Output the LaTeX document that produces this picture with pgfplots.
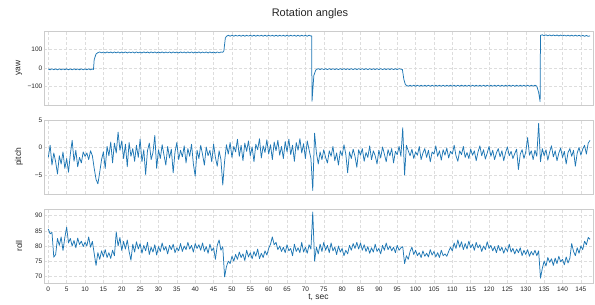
\documentclass[border=0pt]{standalone}
\usepackage{fontspec}
\setmainfont{Liberation Sans}
\usepackage{pgfplots}
\pgfplotsset{compat=1.18}
\definecolor{tabblue}{HTML}{1F77B4}
\definecolor{txt}{HTML}{262626}
\definecolor{gridc}{HTML}{DDDDDD}
\definecolor{spine}{HTML}{CCCCCC}
\pgfplotsset{rot/.style={
  scale only axis, width=549pt, height=74pt,
  xmin=-1.17, xmax=148.3,
  xtick={0,5,...,145},
  major tick length=0pt,
  grid=major,
  major grid style={gridc, densely dashed, line width=0.5pt},
  axis line style={spine, line width=0.8pt},
  tick label style={font=\fontsize{6.5}{7}\selectfont, text=txt},
  /pgf/number format/assume math mode=true,
  yticklabel style={inner sep=1.5pt},
  label style={font=\fontsize{8.5}{10}\selectfont, text=txt},
  ylabel style={at={(axis description cs:-0.0455,0.5)}, anchor=center},
  cycle list={{tabblue, line width=0.75pt, mark=none, line join=round}},
}}
\begin{document}
\begin{tikzpicture}
\useasboundingbox (0,0) rectangle (595pt,305pt);
\node[font=\fontsize{11}{13}\selectfont, text=txt] at (310pt,291pt) {Rotation angles};
% ---------------- yaw
\begin{axis}[rot, at={(44pt,200pt)}, anchor=south west,
  ymin=-198, ymax=198, ytick={-100,0,100}, yticklabels={−100,0,100},
  xticklabels={}, ylabel={yaw}]
\addplot[tabblue, line width=0.75pt, mark=none, line join=round] coordinates {
(0,-5) (0.5,-9.5) (1,-4.5) (1.5,-9) (2,-5) (2.5,-9.5) (3,-4.5) (3.5,-9.5) (4,-5) (4.5,-9) (5,-4.5) (5.5,-9.5) (6,-5) (6.5,-9.5) (7,-4.5) (7.5,-9) (8,-5) (8.5,-9.5) (9,-4.5) (9.5,-9.5) (10,-5) (10.5,-9) (11,-4.5) (11.5,-9.5) (12,-5) (12.3,-8) (12.5,45) (13,75) (13.5,82)
(14,86) (14.5,81) (15,85.5) (15.5,80.5) (16,86) (16.5,81) (17,85.5) (17.5,80.5) (18,86) (18.5,81) (19,86) (19.5,80.5) (20,85.5) (20.5,81) (21,86) (21.5,80.5) (22,85.5) (22.5,81) (23,86) (23.5,80.5) (24,86) (24.5,81) (25,85.5) (25.5,80.5) (26,86) (26.5,81) (27,85.5) (27.5,80.5) (28,86) (28.5,81) (29,86) (29.5,80.5) (30,85.5) (30.5,81) (31,86) (31.5,80.5) (32,85.5) (32.5,81) (33,86) (33.5,80.5) (34,86) (34.5,81) (35,85.5) (35.5,80.5) (36,86) (36.5,81) (37,85.5) (37.5,80.5) (38,86) (38.5,81) (39,86) (39.5,80.5) (40,85.5) (40.5,81) (41,86) (41.5,80.5) (42,85.5) (42.5,81) (43,86) (43.5,80.5) (44,86) (44.5,81) (45,85.5) (45.5,80.5) (46,86) (46.5,81) (47,85.5) (47.5,84) (47.8,92) (48.2,160) (48.5,169.5)
(49,175) (49.5,170) (50,175.5) (50.5,170) (51,175) (51.5,170.5) (52,175) (52.5,170) (53,175.5) (53.5,170) (54,175) (54.5,170.5) (55,175) (55.5,170) (56,175.5) (56.5,170) (57,175) (57.5,170.5) (58,175) (58.5,170) (59,175.5) (59.5,170) (60,175) (60.5,170.5) (61,175) (61.5,170) (62,175.5) (62.5,170) (63,175) (63.5,170.5) (64,175) (64.5,170) (65,175.5) (65.5,170) (66,175) (66.5,170.5) (67,175) (67.5,170) (68,175.5) (68.5,170) (69,175) (69.5,170.5) (70,175) (70.5,170) (71,175.5) (71.5,171) (71.7,172) (71.8,-178) (72.3,-40) (72.8,-12) (73,-8.5)
(73.5,-3.5) (74,-8.5) (74.5,-3.5) (75,-8.5) (75.5,-3.5) (76,-8.5) (76.5,-3.5) (77,-8.5) (77.5,-3.5) (78,-8.5) (78.5,-3.5) (79,-8.5) (79.5,-3.5) (80,-8.5) (80.5,-3.5) (81,-8.5) (81.5,-3.5) (82,-8.5) (82.5,-3.5) (83,-8.5) (83.5,-3.5) (84,-8.5) (84.5,-3.5) (85,-8.5) (85.5,-3.5) (86,-8.5) (86.5,-3.5) (87,-8.5) (87.5,-3.5) (88,-8.5) (88.5,-3.5) (89,-8.5) (89.5,-3.5) (90,-8.5) (90.5,-3.5) (91,-8.5) (91.5,-3.5) (92,-8.5) (92.5,-3.5) (93,-8.5) (93.5,-3.5) (94,-8.5) (94.5,-3.5) (95,-8.5) (95.5,-3.5) (96,-6.5) (96.4,-8) (96.8,-60) (97.2,-88) (97.5,-93)
(98,-97.5) (98.5,-92.5) (99,-97.5) (99.5,-92.5) (100,-97.5) (100.5,-92.5) (101,-97.5) (101.5,-92.5) (102,-97.5) (102.5,-92.5) (103,-97.5) (103.5,-92.5) (104,-97.5) (104.5,-92.5) (105,-97.5) (105.5,-92.5) (106,-97.5) (106.5,-92.5) (107,-97.5) (107.5,-92.5) (108,-97.5) (108.5,-92.5) (109,-97.5) (109.5,-92.5) (110,-97.5) (110.5,-92.5) (111,-97.5) (111.5,-92.5) (112,-97.5) (112.5,-92.5) (113,-97.5) (113.5,-92.5) (114,-97.5) (114.5,-92.5) (115,-97.5) (115.5,-92.5) (116,-97.5) (116.5,-92.5) (117,-97.5) (117.5,-92.5) (118,-97.5) (118.5,-92.5) (119,-97.5) (119.5,-92.5) (120,-97.5) (120.5,-92.5) (121,-97.5) (121.5,-92.5) (122,-97.5) (122.5,-92.5) (123,-97.5) (123.5,-92.5) (124,-97.5) (124.5,-92.5) (125,-97.5) (125.5,-92.5) (126,-97.5) (126.5,-92.5) (127,-97.5) (127.5,-92.5) (128,-97.5) (128.5,-92.5) (129,-97.5) (129.5,-92.5) (130,-97.5) (130.5,-92.5) (131,-97.5) (131.5,-92.5) (132,-97.5) (132.5,-92.5) (133,-97) (133.5,-130) (133.9,-180) (134,175)
(134.5,177.5) (135,172.5) (135.5,177.5) (136,172.5) (136.5,177) (137,172) (137.5,177) (138,172) (138.5,176.5) (139,171.5) (139.5,176.5) (140,171.5) (140.5,176) (141,171) (141.5,176) (142,171) (142.5,175.5) (143,170.5) (143.5,175.5) (144,170.5) (144.5,175) (145,170) (145.5,174.5) (146,169.5) (146.5,174) (147,169.5) (147.5,172)
};
\end{axis}
% ---------------- pitch
\begin{axis}[rot, at={(44pt,111pt)}, anchor=south west,
  ymin=-8.45, ymax=5, ytick={-5,0,5}, yticklabels={−5,0,5},
  xticklabels={}, ylabel={pitch}]
\addplot[tabblue, line width=0.75pt, mark=none, line join=round] coordinates {
(0,-1.8) (0.5,0.4) (1,-3.2) (1.5,-1.0) (2,-2.6) (2.5,-4.8) (3,-1.5) (3.5,-3.0) (4,-0.8) (4.5,-3.8) (5,-2.0) (5.5,-4.5) (6,-1.2) (6.5,1.3) (7,-2.5) (7.5,-0.5) (8,-3.5) (8.5,-1.8) (9,-2.8) (9.5,-0.8)
(10,-1.6) (10.5,-1.0) (11,-2.2) (11.5,-0.6) (12,-1.5) (12.5,-3.8) (13,-5.8) (13.5,-6.6) (14,-4.5) (14.5,-2.2) (15,-0.8) (15.5,-3.8) (16,0.2) (16.5,-1.5) (17,1.0) (17.5,-2.8) (18,0.8) (18.5,-1.0) (19,2.8) (19.5,-0.5)
(20,1.2) (20.5,-2.0) (21,0.6) (21.5,-3.5) (22,0.9) (22.5,-1.6) (23,-0.2) (23.5,-2.5) (24,0.4) (24.5,-1.8) (25,1.5) (25.5,-2.6) (26,-0.4) (26.5,-4.9) (27,-0.6) (27.5,0.8) (28,-2.2) (28.5,-0.9) (29,2.2) (29.5,-3.8)
(30,-0.4) (30.5,-2.0) (31,0.5) (31.5,-1.4) (32,-3.2) (32.5,0.2) (33,-1.9) (33.5,-0.3) (34,-4.6) (34.5,-0.8) (35,0.9) (35.5,-2.2) (36,-0.5) (36.5,-1.7) (37,0.3) (37.5,-2.8) (38,-0.2) (38.5,-1.6) (39,0.6) (39.5,-3.0)
(40,-5.2) (40.5,-0.5) (41,-2.0) (41.5,0.4) (42,-1.3) (42.5,-3.2) (43,0.1) (43.5,-1.5) (44,-0.5) (44.5,-2.6) (45,0.6) (45.5,-1.8) (46,-3.4) (46.5,-0.6) (47,-2.2) (47.5,-6.8) (48,-2.5) (48.5,0.5) (49,-1.2) (49.5,0.9)
(50,-1.8) (50.5,0.2) (51,-0.8) (51.5,1.5) (52,-1.6) (52.5,0.4) (53,-2.4) (53.5,0.8) (54,-0.7) (54.5,1.2) (55,-1.5) (55.5,0.1) (56,-2.6) (56.5,0.6) (57,-0.4) (57.5,1.6) (58,-1.9) (58.5,0.3) (59,-0.9) (59.5,1.4)
(60,-1.2) (60.5,0.5) (61,-2.2) (61.5,1.0) (62,-0.6) (62.5,1.3) (63,-1.4) (63.5,0.2) (64,-2.0) (64.5,1.1) (65,-0.8) (65.5,1.5) (66,-1.3) (66.5,0.4) (67,-2.5) (67.5,0.9) (68,-0.5) (68.5,1.6) (69,-1.0) (69.5,0.7)
(70,-2.0) (70.5,1.2) (71,-0.4) (71.5,-2.0) (72,-7.8) (72.5,2.6) (73,-1.0) (73.5,-3.0) (74,-0.8) (74.5,-2.2) (75,-0.4) (75.5,-1.8) (76,-2.8) (76.5,-0.6) (77,-1.6) (77.5,0.2) (78,-2.4) (78.5,-1.0) (79,-3.2) (79.5,-0.6)
(80,-1.5) (80.5,0.5) (81,-1.2) (81.5,-4.6) (82,-0.8) (82.5,-2.0) (83,-0.3) (83.5,-1.6) (84,-3.6) (84.5,-0.4) (85,-1.4) (85.5,-0.2) (86,-2.5) (86.5,-0.9) (87,-1.8) (87.5,0.3) (88,-2.2) (88.5,-0.6) (89,-1.5) (89.5,-3.0)
(90,-0.5) (90.5,-1.9) (91,0.1) (91.5,-1.2) (92,-2.6) (92.5,-0.4) (93,-1.5) (93.5,-0.2) (94,-2.8) (94.5,-0.7) (95,-1.3) (95.5,0.2) (96,-1.6) (96.5,3.6) (97,-5.0) (97.5,0.4) (98,-0.6) (98.5,-1.5) (99,-0.3) (99.5,-2.0)
(100,-0.8) (100.5,-1.4) (101,0.2) (101.5,-2.2) (102,-1.0) (102.5,-0.2) (103,-1.8) (103.5,-0.5) (104,-2.6) (104.5,-0.8) (105,-1.2) (105.5,0.3) (106,-1.6) (106.5,-0.6) (107,-2.3) (107.5,-0.4) (108,-1.4) (108.5,-0.1) (109,-1.9) (109.5,-0.7)
(110,-1.2) (110.5,0.4) (111,-1.5) (111.5,-2.5) (112,-0.6) (112.5,-1.3) (113,0.2) (113.5,-1.8) (114,-0.9) (114.5,-2.0) (115,-0.3) (115.5,-1.4) (116,-0.6) (116.5,-2.4) (117,-0.8) (117.5,0.3) (118,-1.5) (118.5,-0.4) (119,-2.1) (119.5,-1.0)
(120,0.2) (120.5,-1.6) (121,-0.5) (121.5,-2.2) (122,-1.0) (122.5,-0.2) (123,-1.7) (123.5,-0.6) (124,-2.4) (124.5,-0.9) (125,0.1) (125.5,-1.5) (126,-0.7) (126.5,-2.0) (127,-1.1) (127.5,-0.3) (128,-4.0) (128.5,-1.2) (129,-0.4) (129.5,-2.0)
(130,-0.8) (130.5,1.8) (131,-1.4) (131.5,-0.6) (132,-2.2) (132.5,-0.5) (133,-1.6) (133.5,4.4) (134,-2.6) (134.5,-0.2) (135,-1.5) (135.5,-0.4) (136,-2.3) (136.5,-0.8) (137,0.3) (137.5,-1.7) (138,-0.6) (138.5,-2.4) (139,-1.0) (139.5,-0.1)
(140,-1.8) (140.5,-0.7) (141,-3.0) (141.5,-0.9) (142,-0.2) (142.5,-1.6) (143,-0.5) (143.5,-3.4) (144,-1.0) (144.5,0.0) (145,-1.4) (145.5,-0.3) (146,0.4) (146.5,-1.2) (147,0.8) (147.5,1.3)
};
\end{axis}
% ---------------- roll
\begin{axis}[rot, at={(44pt,22pt)}, anchor=south west,
  ymin=67.8, ymax=92.2, ytick={70,75,80,85,90},
  ylabel={roll}, xlabel={t, sec},
  xlabel style={at={(axis description cs:0.5,0)}, yshift=-14.5pt, anchor=center}]
\addplot[tabblue, line width=0.75pt, mark=none, line join=round] coordinates {
(0,85.6) (0.5,84.0) (1,84.5) (1.5,76.3) (2,77.2) (2.5,82.5) (3,80.2) (3.5,83.0) (4,78.5) (4.5,82.8) (5,86.2) (5.5,81.0) (6,82.5) (6.5,80.0) (7,81.8) (7.5,79.4) (8,82.6) (8.5,80.5) (9,81.6) (9.5,79.8)
(10,81.2) (10.5,80.0) (11,83.0) (11.5,79.6) (12,81.5) (12.5,77.5) (13,73.6) (13.5,77.8) (14,75.6) (14.5,78.4) (15,76.5) (15.5,78.8) (16,76.2) (16.5,77.8) (17,75.9) (17.5,78.6) (18,76.8) (18.5,84.6) (19,80.0) (19.5,82.8)
(20,78.5) (20.5,81.5) (21,79.0) (21.5,82.0) (22,78.2) (22.5,75.3) (23,80.6) (23.5,78.0) (24,81.4) (24.5,79.0) (25,80.8) (25.5,77.6) (26,80.2) (26.5,78.4) (27,81.2) (27.5,77.2) (28,79.6) (28.5,78.0) (29,80.4) (29.5,77.0)
(30,79.8) (30.5,78.2) (31,81.0) (31.5,78.6) (32,79.8) (32.5,77.4) (33,80.2) (33.5,78.8) (34,80.6) (34.5,77.8) (35,79.4) (35.5,78.4) (36,80.8) (36.5,78.2) (37,80.0) (37.5,78.8) (38,81.2) (38.5,79.0) (39,80.2) (39.5,78.0)
(40,80.8) (40.5,79.2) (41,80.4) (41.5,78.6) (42,81.0) (42.5,78.2) (43,79.8) (43.5,77.6) (44,80.6) (44.5,78.4) (45,79.4) (45.5,75.6) (46,80.2) (46.5,82.0) (47,78.6) (47.5,79.8) (48,69.8) (48.5,73.2) (49,75.0) (49.5,74.2)
(50,76.6) (50.5,75.0) (51,77.2) (51.5,75.6) (52,78.0) (52.5,76.2) (53,77.4) (53.5,75.2) (54,78.6) (54.5,76.4) (55,77.8) (55.5,75.8) (56,78.2) (56.5,76.6) (57,79.0) (57.5,75.8) (58,77.6) (58.5,76.2) (59,78.4) (59.5,77.0)
(60,79.2) (60.5,80.6) (61,83.0) (61.5,80.4) (62,81.2) (62.5,78.8) (63,80.0) (63.5,78.2) (64,79.6) (64.5,77.8) (65,80.4) (65.5,78.4) (66,79.2) (66.5,76.8) (67,80.6) (67.5,78.2) (68,79.4) (68.5,77.8) (69,81.2) (69.5,78.0)
(70,79.6) (70.5,77.6) (71,80.4) (71.5,79.0) (72,91.2) (72.5,75.0) (73,79.6) (73.5,77.4) (74,80.6) (74.5,78.2) (75,81.2) (75.5,78.6) (76,80.2) (76.5,77.8) (77,81.0) (77.5,78.4) (78,79.6) (78.5,77.2) (79,80.0) (79.5,78.0)
(80,79.2) (80.5,76.8) (81,78.6) (81.5,77.4) (82,80.2) (82.5,78.6) (83,80.8) (83.5,79.2) (84,81.2) (84.5,79.0) (85,81.0) (85.5,78.6) (86,80.4) (86.5,78.2) (87,79.8) (87.5,77.6) (88,79.4) (88.5,78.0) (89,80.6) (89.5,78.2)
(90,79.2) (90.5,77.4) (91,80.2) (91.5,78.6) (92,81.0) (92.5,78.8) (93,80.0) (93.5,78.4) (94,79.6) (94.5,77.8) (95,80.2) (95.5,78.6) (96,79.4) (96.5,79.8) (97,74.2) (97.5,76.8) (98,75.6) (98.5,78.2) (99,79.6) (99.5,77.2)
(100,78.6) (100.5,76.8) (101,77.8) (101.5,76.2) (102,78.4) (102.5,76.6) (103,77.6) (103.5,76.4) (104,78.8) (104.5,77.0) (105,78.2) (105.5,76.4) (106,77.8) (106.5,76.2) (107,78.6) (107.5,76.8) (108,77.4) (108.5,76.6) (109,78.2) (109.5,79.6)
(110,78.4) (110.5,81.0) (111,79.2) (111.5,82.0) (112,79.6) (112.5,81.4) (113,78.8) (113.5,80.8) (114,79.0) (114.5,81.6) (115,79.4) (115.5,80.6) (116,78.6) (116.5,81.2) (117,79.4) (117.5,80.4) (118,78.2) (118.5,80.0) (119,78.8) (119.5,81.4)
(120,79.2) (120.5,80.2) (121,78.4) (121.5,79.8) (122,77.8) (122.5,80.2) (123,78.4) (123.5,79.6) (124,77.6) (124.5,79.4) (125,78.2) (125.5,80.6) (126,78.0) (126.5,79.2) (127,77.4) (127.5,79.0) (128,77.8) (128.5,79.4) (129,76.8) (129.5,78.6)
(130,77.2) (130.5,78.8) (131,76.6) (131.5,78.2) (132,77.0) (132.5,78.6) (133,76.8) (133.5,78.4) (134,69.4) (134.5,72.6) (135,75.0) (135.5,73.4) (136,76.2) (136.5,74.6) (137,75.8) (137.5,73.6) (138,76.0) (138.5,74.2) (139,76.6) (139.5,74.8)
(140,75.6) (140.5,73.8) (141,76.4) (141.5,74.4) (142,76.0) (142.5,80.8) (143,78.2) (143.5,76.8) (144,79.4) (144.5,77.6) (145,80.0) (145.5,78.8) (146,81.6) (146.5,80.4) (147,82.8) (147.5,82.2)
};
\end{axis}
\end{tikzpicture}
\end{document}
